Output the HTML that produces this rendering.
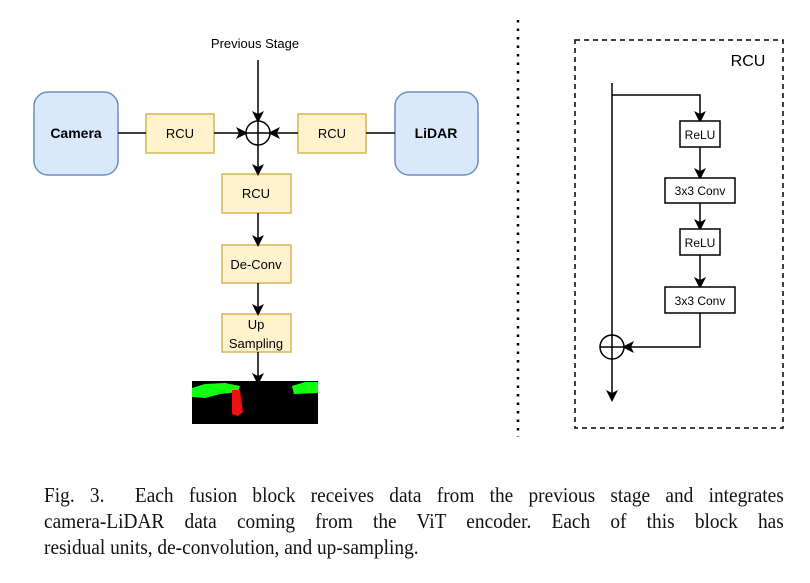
<!DOCTYPE html>
<html><head><style>
body{margin:0;background:#fff;width:810px;height:583px;overflow:hidden;position:relative}
.cap{position:absolute;left:44px;top:482px;width:822px;font-family:"Liberation Serif",serif;font-size:21.5px;line-height:26px;color:#111;hyphens:none;transform:scaleX(0.9);transform-origin:0 0}
.cap div{text-align:justify;text-align-last:justify;white-space:nowrap}
.cap div.l{text-align-last:left}
</style></head><body>
<svg width="810" height="470" style="position:absolute;left:0;top:0" font-family="Liberation Sans, sans-serif">
<defs><marker id="a" markerWidth="12" markerHeight="12" refX="10" refY="6" orient="auto" markerUnits="userSpaceOnUse"><path d="M0,0 L12,6 L0,12 L3,6z" fill="#000"/></marker></defs>
<g stroke="#000" stroke-width="1.5" fill="none">
<rect x="34" y="92" width="84" height="83" rx="14" fill="#dae8fc" stroke="#6c8ebf"/>
<rect x="395" y="92" width="83" height="83" rx="14" fill="#dae8fc" stroke="#6c8ebf"/>
<rect x="146" y="114" width="68" height="39" fill="#fff2cc" stroke="#d6b656"/>
<rect x="298" y="114" width="68" height="39" fill="#fff2cc" stroke="#d6b656"/>
<rect x="222" y="174" width="69" height="39" fill="#fff2cc" stroke="#d6b656"/>
<rect x="222" y="245" width="69" height="38" fill="#fff2cc" stroke="#d6b656"/>
<rect x="222" y="314" width="69" height="38" fill="#fff2cc" stroke="#d6b656"/>
<line x1="118" y1="133" x2="146" y2="133"/>
<line x1="214" y1="133" x2="246" y2="133" marker-end="url(#a)"/>
<line x1="395" y1="133" x2="366" y2="133"/>
<line x1="298" y1="133" x2="270" y2="133" marker-end="url(#a)"/>
<line x1="258" y1="60" x2="258" y2="121" marker-end="url(#a)"/>
<circle cx="258" cy="133" r="12"/>
<line x1="246" y1="133" x2="270" y2="133"/><line x1="258" y1="121" x2="258" y2="145"/>
<line x1="258" y1="145" x2="258" y2="174" marker-end="url(#a)"/>
<line x1="258" y1="213" x2="258" y2="245" marker-end="url(#a)"/>
<line x1="258" y1="283" x2="258" y2="314" marker-end="url(#a)"/>
<line x1="258" y1="352" x2="258" y2="383" marker-end="url(#a)"/>
</g>
<rect x="192" y="381" width="126" height="43" fill="#000"/>
<path d="M192,388 L205,384 L225,383 L240,386 L238,392 L220,394 L205,398 L192,397z" fill="#1f1"/>
<path d="M292,386 L305,382 L318,382 L318,393 L294,394z" fill="#1f1"/>
<path d="M232,390 L240,390 L243,412 L238,416 L232,414z" fill="#e11"/>
<line x1="518" y1="20" x2="518" y2="437" stroke="#000" stroke-width="2.5" stroke-dasharray="2.5,6"/>
<rect x="575" y="40" width="208" height="388" fill="none" stroke="#000" stroke-width="1.5" stroke-dasharray="5,4"/>
<g stroke="#000" stroke-width="1.5" fill="none">
<line x1="612" y1="83" x2="612" y2="400" marker-end="url(#a)"/>
<polyline points="612,95 700,95 700,121" marker-end="url(#a)"/>
<rect x="680" y="121" width="40" height="26" fill="#fff"/>
<line x1="700" y1="147" x2="700" y2="178" marker-end="url(#a)"/>
<rect x="665" y="178" width="70" height="25" fill="#fff"/>
<line x1="700" y1="203" x2="700" y2="229" marker-end="url(#a)"/>
<rect x="680" y="229" width="40" height="26" fill="#fff"/>
<line x1="700" y1="255" x2="700" y2="287" marker-end="url(#a)"/>
<rect x="665" y="287" width="70" height="26" fill="#fff"/>
<polyline points="700,313 700,347 624,347" marker-end="url(#a)"/>
<circle cx="612" cy="347" r="12" fill="#fff"/>
<line x1="600" y1="347" x2="624" y2="347"/><line x1="612" y1="335" x2="612" y2="359"/>
</g>
<g font-size="13" text-anchor="middle" fill="#000">
<text x="255" y="48">Previous Stage</text>
<text x="76" y="138" font-weight="bold" font-size="14">Camera</text>
<text x="436" y="138" font-weight="bold" font-size="14">LiDAR</text>
<text x="180" y="138">RCU</text>
<text x="332" y="138">RCU</text>
<text x="256" y="198">RCU</text>
<text x="256" y="269">De-Conv</text>
<text x="256" y="329">Up</text>
<text x="256" y="348">Sampling</text>
<text x="748" y="66" font-size="16">RCU</text>
<text x="700" y="139" font-size="12">ReLU</text>
<text x="700" y="195" font-size="12">3x3 Conv</text>
<text x="700" y="247" font-size="12">ReLU</text>
<text x="700" y="305" font-size="12">3x3 Conv</text>
</g>
</svg>
<div class="cap">
<div>Fig. 3.&nbsp; Each fusion block receives data from the previous stage and integrates</div>
<div>camera-LiDAR data coming from the ViT encoder. Each of this block has</div>
<div class="l">residual units, de-convolution, and up-sampling.</div>
</div>
</body></html>
